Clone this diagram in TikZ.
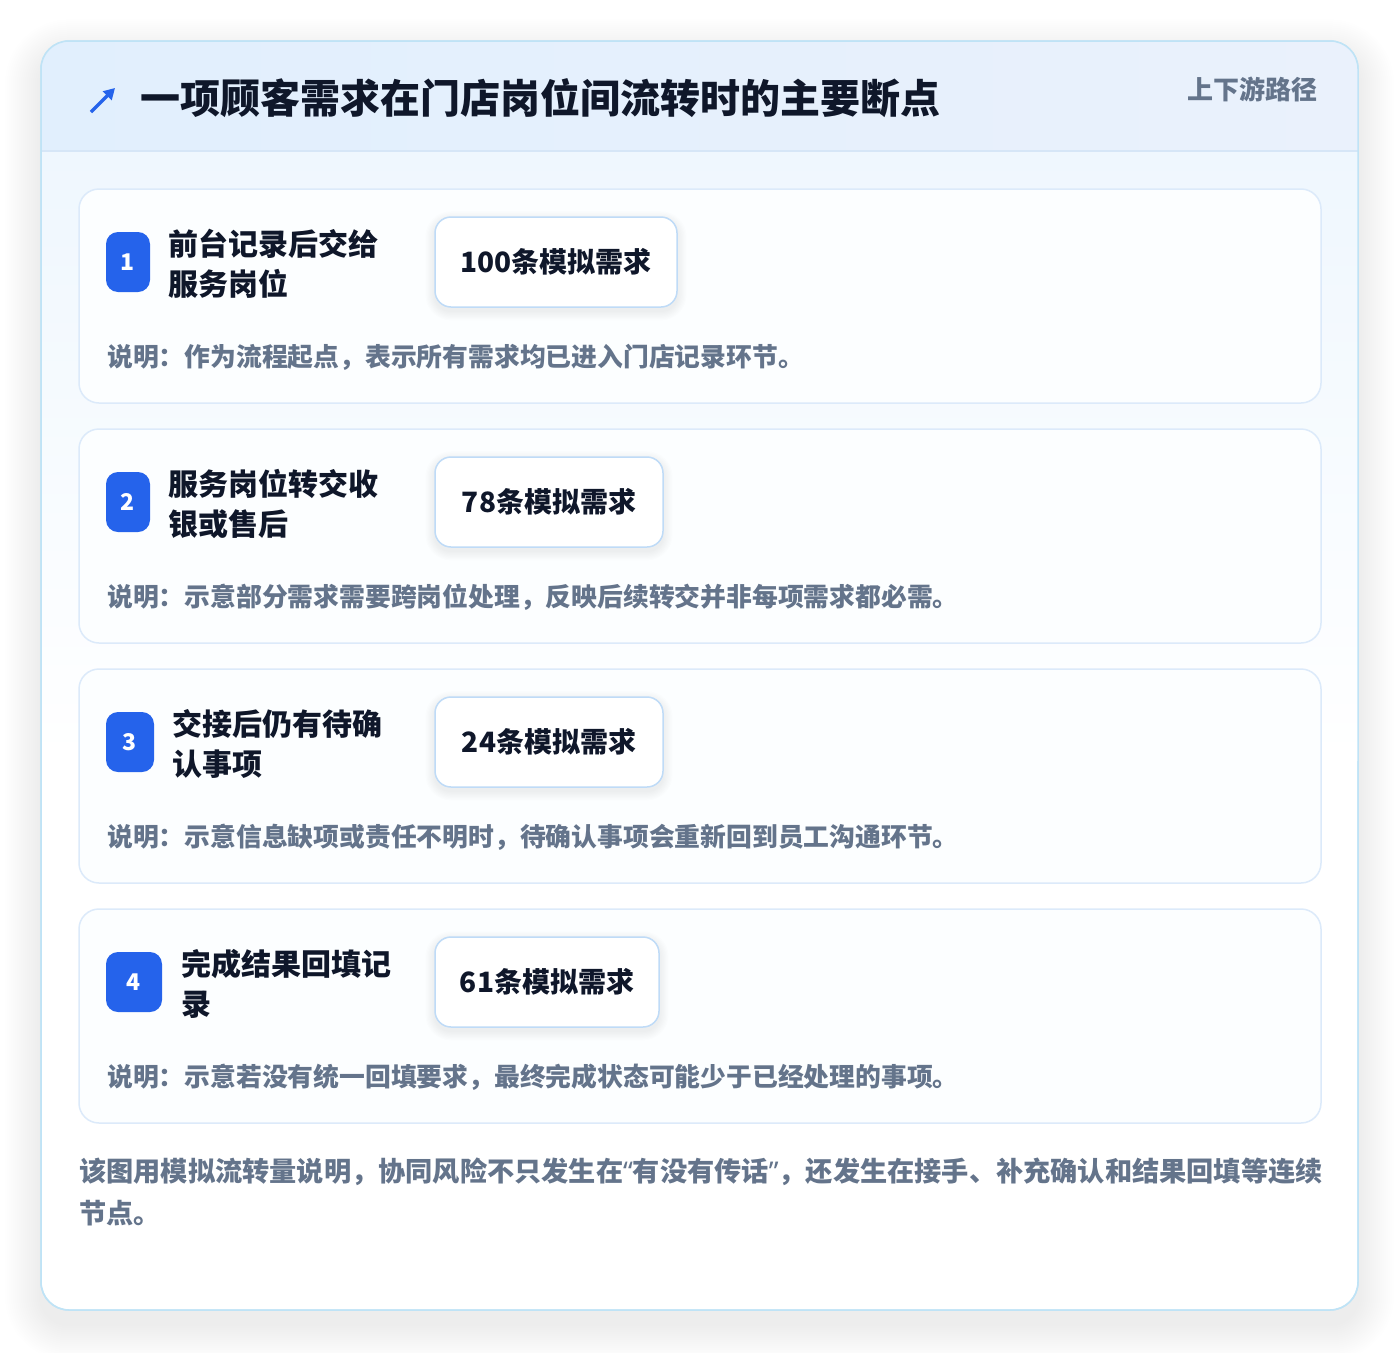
\documentclass[tikz,border=0pt]{standalone}
\usepackage{fontspec}
\setmainfont{Noto Sans CJK SC}
\newfontfamily\latinfont{Noto Sans}
\usetikzlibrary{arrows.meta}
\definecolor{ink}{HTML}{0F172A}
\definecolor{muted}{HTML}{64748B}
\definecolor{brand}{HTML}{2563EB}
\definecolor{outerline}{HTML}{BFE3F6}
\definecolor{hdrL}{HTML}{E1EFFD}
\definecolor{hdrR}{HTML}{EAF1FC}
\definecolor{hdrline}{HTML}{D6E6F7}
\definecolor{bodytop}{HTML}{EFF7FE}
\definecolor{cardline}{HTML}{DCEAFA}
\definecolor{cardfill}{HTML}{FCFEFF}
\definecolor{pillline}{HTML}{BFDBF7}
\tikzset{
  outerbox/.style={draw=outerline, line width=1.5pt, rounded corners=28pt, inner sep=0pt},
  cardbox/.style={draw=cardline, line width=1.5pt, fill=cardfill, rounded corners=20pt,
    minimum width=1242pt, minimum height=214pt, inner sep=0pt},
  badge/.style={fill=brand, rounded corners=12pt, text=white, font=\fontsize{23}{24}\selectfont\bfseries,
    minimum height=60pt, inner sep=0pt},
  steplabel/.style={anchor=west, align=left, text=ink, inner sep=0pt,
    font=\fontsize{30}{40}\selectfont\bfseries},
  pill/.style={draw=pillline, line width=1.5pt, fill=white, rounded corners=16pt, text=ink,
    minimum height=90pt, inner sep=0pt, font=\fontsize{28}{30}\selectfont\bfseries},
  notetext/.style={anchor=west, text=muted, inner sep=0pt, font=\fontsize{25.8}{28}\selectfont\bfseries},
}
% soft shadow: x1, y1, x2, y2, radius, steps, step size, opacity per step
\newcommand{\softshadow}[8]{%
  \foreach \k in {1,...,#6}{%
    \pgfmathsetmacro{\rr}{#5+\k*#7}%
    \fill[black, opacity=#8, rounded corners=\rr pt]
      ({#1-\k*#7},{#2-\k*#7+0.4*#6*#7}) rectangle ({#3+\k*#7},{#4+\k*#7+0.4*#6*#7});
  }%
}
\begin{document}
\begin{tikzpicture}[x=1pt,y=-1pt]
\useasboundingbox[fill=white] (0,0) rectangle (1400,1352);
% outer shadow
\softshadow{41}{41}{1358}{1310}{28}{18}{2}{0.0042}
% outer card
\node[outerbox, fill=white, minimum width=1317pt, minimum height=1269pt] (outer) at (699.5,675.5) {};
\begin{scope}
  \clip[rounded corners=28pt] (41,41) rectangle (1358,1310);
  \shade[left color=hdrL, right color=hdrR] (41,41) rectangle (1358,151);
  \shade[top color=bodytop, bottom color=white] (41,151) rectangle (1358,760);
  \draw[hdrline, line width=1.5pt] (41,151) -- (1358,151);
\end{scope}
\draw[outerline, line width=1.5pt, rounded corners=28pt] (41,41) rectangle (1358,1310);
% header
\coordinate (icontail) at (91,112);
\coordinate (iconhead) at (115,88);
\draw[brand, line width=3.2pt, -{Triangle[length=11pt, width=12pt]}] (icontail) -- (iconhead);
\node[anchor=west, text=ink, inner sep=0pt, font=\fontsize{40}{44}\selectfont\bfseries] (title) at (140,98) {一项顾客需求在门店岗位间流转时的主要断点};
\node[anchor=east, text=muted, inner sep=0pt, font=\fontsize{26}{28}\selectfont\bfseries] (tag) at (1318,89) {上下游路径};
% cards
\node[cardbox] (c1) at (700,296) {};
\node[cardbox] (c2) at (700,536) {};
\node[cardbox] (c3) at (700,776) {};
\node[cardbox] (c4) at (700,1016) {};
% pill shadows
\softshadow{435}{217}{677}{307}{16}{8}{1.2}{0.006}
\softshadow{435}{457}{663}{547}{16}{8}{1.2}{0.006}
\softshadow{435}{697}{663}{787}{16}{8}{1.2}{0.006}
\softshadow{435}{937}{659}{1027}{16}{8}{1.2}{0.006}
% card 1
\node[badge, minimum width=44pt] (b1) at (128,262) {1};
\node[steplabel] (l1) at (168,264) {前台记录后交给\\服务岗位};
\node[pill, minimum width=242pt] (p1) at (556,262) {100条模拟需求};
\node[notetext] (n1) at (107,357) {说明：作为流程起点，表示所有需求均已进入门店记录环节。};
% card 2
\node[badge, minimum width=44pt] (b2) at (128,502) {2};
\node[steplabel] (l2) at (168,504) {服务岗位转交收\\银或售后};
\node[pill, minimum width=228pt] (p2) at (549,502) {78条模拟需求};
\node[notetext] (n2) at (107,597) {说明：示意部分需求需要跨岗位处理，反映后续转交并非每项需求都必需。};
% card 3
\node[badge, minimum width=48pt] (b3) at (130,742) {3};
\node[steplabel] (l3) at (172,744) {交接后仍有待确\\认事项};
\node[pill, minimum width=228pt] (p3) at (549,742) {24条模拟需求};
\node[notetext] (n3) at (107,837) {说明：示意信息缺项或责任不明时，待确认事项会重新回到员工沟通环节。};
% card 4
\node[badge, minimum width=56pt] (b4) at (134,982) {4};
\node[steplabel] (l4) at (181,984) {完成结果回填记\\录};
\node[pill, minimum width=224pt] (p4) at (547,982) {61条模拟需求};
\node[notetext] (n4) at (107,1077) {说明：示意若没有统一回填要求，最终完成状态可能少于已经处理的事项。};
% footer
\node[anchor=north west, align=left, text=muted, inner sep=0pt, font=\fontsize{27.2}{42}\selectfont\bfseries] (foot) at (79,1158) {该图用模拟流转量说明，协同风险不只发生在{\latinfont“}有没有传话{\latinfont”}，还发生在接手、补充确认和结果回填等连续\\节点。};
\end{tikzpicture}
\end{document}
